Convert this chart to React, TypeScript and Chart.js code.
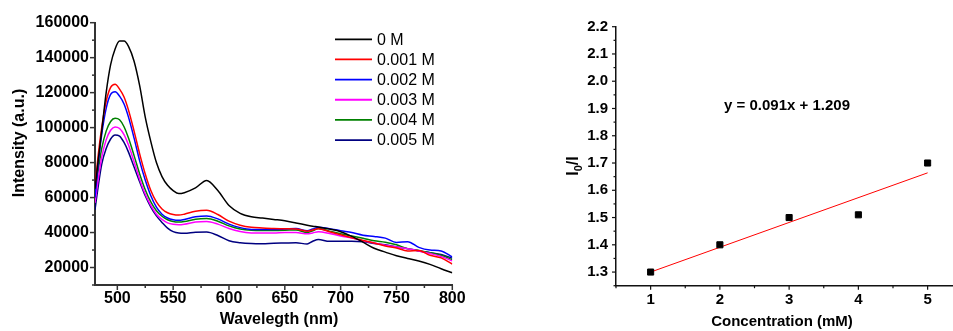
import React, { useEffect, useRef } from "react";
import { Chart, registerables } from "chart.js";
Chart.register(...registerables);
Chart.defaults.font.family = "'Liberation Sans', Arial, sans-serif";

// ---------- Left chart data: emission spectra ----------
const wavelengths = [480, 483, 486, 490, 494, 498, 502, 506, 510, 515, 520, 525, 530, 535, 540, 545, 550, 555, 560, 570, 580, 590, 600, 610, 620, 630, 640, 650, 660, 670, 675, 680, 690, 700, 710, 720, 730, 740, 750, 760, 770, 780, 790, 800];

const series0M = [65000, 82000, 98000, 120000, 136000, 145000, 149500, 149500, 146500, 138000, 124000, 106000, 92000, 80000, 72000, 67000, 64000, 62300, 62800, 65500, 69800, 64000, 55500, 51000, 49000, 48300, 47500, 46700, 45500, 44200, 43600, 43200, 42000, 40500, 37800, 34500, 31000, 28800, 26700, 25200, 23700, 21800, 19300, 17000];
const series001 = [66000, 85000, 100000, 115000, 123000, 124800, 122000, 117500, 110000, 98000, 85000, 73500, 64000, 57500, 53500, 51300, 50300, 50000, 50500, 52200, 52700, 50300, 46500, 44200, 43000, 42600, 42300, 42200, 42000, 40800, 41500, 42200, 40500, 38700, 37000, 35500, 34000, 32300, 31200, 29500, 29800, 27000, 25500, 22000];
const series002 = [60000, 80000, 96000, 111000, 119000, 120500, 118000, 113500, 106000, 94000, 81000, 70000, 61000, 54500, 50500, 48300, 47300, 47000, 47500, 49000, 49500, 47800, 44800, 42800, 41800, 41800, 41800, 42000, 42300, 41000, 42000, 43000, 42200, 41000, 40000, 38500, 37800, 36800, 34300, 34800, 31500, 30000, 29500, 26000];
const series003 = [57000, 71000, 83000, 93000, 98500, 100400, 99500, 96000, 90000, 80500, 70500, 62000, 55500, 50500, 47500, 45500, 44700, 44500, 44800, 46000, 46300, 44800, 42300, 40600, 39800, 39700, 39700, 40000, 40000, 39300, 39800, 40500, 39500, 38000, 36800, 35300, 34000, 32800, 31700, 30700, 29500, 28000, 26300, 23800];
const series004 = [62000, 76000, 88000, 98000, 103500, 105300, 104500, 100500, 94000, 84000, 73500, 64500, 57500, 52500, 49300, 47300, 46300, 46000, 46300, 47600, 48000, 46500, 43800, 42000, 41300, 41200, 41200, 41300, 41500, 40000, 41000, 42300, 40800, 39300, 38000, 36700, 35300, 34500, 33000, 30700, 29800, 28400, 27000, 24500];
const series005 = [53000, 67000, 79000, 88000, 93500, 95800, 95200, 91500, 86000, 77500, 69000, 61000, 54500, 49500, 45800, 42500, 40500, 39700, 39600, 40200, 40300, 38300, 35300, 34200, 33700, 33600, 33900, 34000, 34100, 33500, 35000, 36000, 35000, 35000, 35000, 34700, 33800, 33000, 31800, 30800, 29500, 28500, 27500, 25300];

const spectrumLabels = ["0 M", "0.001 M", "0.002 M", "0.003 M", "0.004 M", "0.005 M"];
const spectrumColors = ["#000000", "#ff0000", "#0000ff", "#ff00ff", "#008000", "#000080"];
const spectrumSeries = [series0M, series001, series002, series003, series004, series005];

const spectrumXTicks = [500, 550, 600, 650, 700, 750, 800];
const spectrumYTicks = [20000, 40000, 60000, 80000, 100000, 120000, 140000, 160000];

// ---------- Right chart data: I0/I vs concentration ----------
const concentrations = [1, 2, 3, 4, 5];
const ratioValues = [1.3, 1.4, 1.5, 1.51, 1.7];
const fitX = [1, 5];
const fitY = [1.3, 1.664];
const ratioXTicks = [1, 2, 3, 4, 5];
const ratioYTicks = [1.3, 1.4, 1.5, 1.6, 1.7, 1.8, 1.9, 2.0, 2.1, 2.2];
const equationText = "y = 0.091x + 1.209";

function tickPlugin(o: any) {
  return {
    id: "axisTicks",
    afterDraw(chart: any) {
      const ctx = chart.ctx;
      const a = chart.chartArea;
      const xs = chart.scales.x;
      const ys = chart.scales.y;
      ctx.save();
      ctx.strokeStyle = o.color;
      ctx.lineWidth = o.width;
      const dx = (v: number, len: number) => {
        const p = xs.getPixelForValue(v);
        if (p < a.left - 0.5 || p > a.right + 0.5) return;
        ctx.beginPath();
        ctx.moveTo(p, a.bottom);
        ctx.lineTo(p, a.bottom + len);
        ctx.stroke();
      };
      const dy = (v: number, len: number) => {
        const p = ys.getPixelForValue(v);
        if (p < a.top - 0.5 || p > a.bottom + 0.5) return;
        ctx.beginPath();
        ctx.moveTo(a.left, p);
        ctx.lineTo(a.left - len, p);
        ctx.stroke();
      };
      o.xMajor.forEach((v: number) => dx(v, o.major));
      o.yMajor.forEach((v: number) => dy(v, o.major));
      for (let v = o.xMinorStart; v <= xs.max + 1e-9; v += o.xMinorStep) dx(v, o.minor);
      for (let v = o.yMinorStart; v <= ys.max + 1e-9; v += o.yMinorStep) dy(v, o.minor);
      ctx.restore();
    },
  };
}

function SpectrumChart() {
  const ref = useRef<HTMLCanvasElement>(null);
  useEffect(() => {
    const canvas = ref.current!;
    const datasets = spectrumSeries.map((s, i) => ({
      label: spectrumLabels[i],
      data: wavelengths.map((w, k) => ({ x: w, y: s[k] })),
      borderColor: spectrumColors[i],
      backgroundColor: spectrumColors[i],
      borderWidth: 1.5,
      pointRadius: 0,
      cubicInterpolationMode: "monotone" as const,
    }));
    const overlay = {
      id: "overlay",
      afterDraw(chart: any) {
        const ctx = chart.ctx;
        ctx.save();
        ctx.fillStyle = "#000";
        ctx.font = "bold 16px 'Liberation Sans', Arial, sans-serif";
        ctx.textAlign = "center";
        ctx.textBaseline = "middle";
        ctx.fillText("Wavelegth (nm)", 279, 320);
        ctx.save();
        ctx.translate(20, 143);
        ctx.rotate(-Math.PI / 2);
        ctx.fillText("Intensity (a.u.)", 0, 0);
        ctx.restore();
        // legend
        ctx.font = "16px 'Liberation Sans', Arial, sans-serif";
        ctx.textAlign = "left";
        spectrumLabels.forEach((lab, i) => {
          const y = 39.3 + i * 20.15;
          ctx.strokeStyle = spectrumColors[i];
          ctx.lineWidth = 1.8;
          ctx.beginPath();
          ctx.moveTo(335, y);
          ctx.lineTo(372, y);
          ctx.stroke();
          ctx.fillStyle = "#000";
          ctx.fillText(lab, 377, y + 1);
        });
        ctx.restore();
      },
    };
    const chart = new Chart(canvas, {
      type: "line",
      data: { datasets },
      options: {
        animation: false,
        responsive: false,
        devicePixelRatio: 1,
        layout: { padding: { top: 22.7, right: 23.7, left: 0, bottom: 0 } },
        plugins: { legend: { display: false }, tooltip: { enabled: false } },
        scales: {
          x: {
            type: "linear",
            min: 480,
            max: 800,
            afterBuildTicks: (s: any) => { s.ticks = spectrumXTicks.map((v) => ({ value: v })); },
            afterFit: (s: any) => { s.height = 46; },
            grid: { display: false, drawTicks: false },
            border: { display: true, color: "#333", width: 2 },
            ticks: { color: "#000", font: { size: 16, weight: "bold" }, padding: 4, maxRotation: 0, callback: (v: any) => String(v) },
          },
          y: {
            type: "linear",
            min: 10000,
            max: 160000,
            afterBuildTicks: (s: any) => { s.ticks = spectrumYTicks.map((v) => ({ value: v })); },
            afterFit: (s: any) => { s.width = 95; },
            grid: { display: false, drawTicks: false },
            border: { display: true, color: "#333", width: 2 },
            ticks: { color: "#000", font: { size: 16, weight: "bold" }, padding: 6, callback: (v: any) => String(v) },
          },
        },
      },
      plugins: [
        tickPlugin({ color: "#333", width: 1.5, major: 5, minor: 3, xMajor: spectrumXTicks, yMajor: spectrumYTicks, xMinorStart: 525, xMinorStep: 50, yMinorStart: 10000, yMinorStep: 20000 }),
        overlay,
      ],
    } as any);
    return () => chart.destroy();
  }, []);
  return <canvas ref={ref} width={476} height={331} style={{ position: "absolute", left: 0, top: 0, width: 476, height: 331 }} />;
}

function RatioChart() {
  const ref = useRef<HTMLCanvasElement>(null);
  useEffect(() => {
    const canvas = ref.current!;
    const overlay = {
      id: "overlay2",
      afterDraw(chart: any) {
        const ctx = chart.ctx;
        ctx.save();
        ctx.fillStyle = "#000";
        ctx.font = "bold 15px 'Liberation Sans', Arial, sans-serif";
        ctx.textAlign = "center";
        ctx.textBaseline = "middle";
        ctx.fillText("Concentration (mM)", 306, 322);
        ctx.fillText(equationText, 311, 106);
        // I0/I rotated
        ctx.save();
        ctx.translate(102, 166);
        ctx.rotate(-Math.PI / 2);
        ctx.textAlign = "left";
        ctx.textBaseline = "alphabetic";
        const big = "bold 16px 'Liberation Sans', Arial, sans-serif";
        const small = "bold 11px 'Liberation Sans', Arial, sans-serif";
        ctx.font = big;
        const w1 = ctx.measureText("I").width;
        const w3 = ctx.measureText("/I").width;
        ctx.font = small;
        const w2 = ctx.measureText("0").width;
        let x = -(w1 + w2 + w3) / 2;
        ctx.font = big;
        ctx.fillText("I", x, 0);
        x += w1;
        ctx.font = small;
        ctx.fillText("0", x, 4);
        x += w2;
        ctx.font = big;
        ctx.fillText("/I", x, 0);
        ctx.restore();
        ctx.restore();
      },
    };
    const chart = new Chart(canvas, {
      type: "scatter",
      data: {
        datasets: [
          {
            label: "fit",
            data: fitX.map((x, i) => ({ x, y: fitY[i] })),
            showLine: true,
            borderColor: "#ff0000",
            borderWidth: 1,
            pointRadius: 0,
            order: 2,
          },
          {
            label: "I0/I",
            data: concentrations.map((x, i) => ({ x, y: ratioValues[i] })),
            pointStyle: "rect",
            pointRadius: 4.3,
            pointBorderWidth: 1,
            backgroundColor: "#000",
            borderColor: "#000",
            order: 1,
          },
        ],
      },
      options: {
        animation: false,
        responsive: false,
        devicePixelRatio: 1,
        layout: { padding: { top: 26.7, right: 13.75, left: 0, bottom: 0 } },
        plugins: { legend: { display: false }, tooltip: { enabled: false } },
        scales: {
          x: {
            type: "linear",
            min: 0.5,
            max: 5.5,
            afterBuildTicks: (s: any) => { s.ticks = ratioXTicks.map((v) => ({ value: v })); },
            afterFit: (s: any) => { s.height = 45.3; },
            grid: { display: false, drawTicks: false },
            border: { display: true, color: "#111", width: 1.5 },
            ticks: { color: "#000", font: { size: 15, weight: "bold" }, padding: 5, maxRotation: 0 },
          },
          y: {
            type: "linear",
            min: 1.25,
            max: 2.2,
            afterBuildTicks: (s: any) => { s.ticks = ratioYTicks.map((v) => ({ value: v })); },
            afterFit: (s: any) => { s.width = 140; },
            grid: { display: false, drawTicks: false },
            border: { display: true, color: "#111", width: 1.5 },
            ticks: { color: "#000", font: { size: 15, weight: "bold" }, padding: 8, callback: (v: any) => Number(v).toFixed(1) },
          },
        },
      },
      plugins: [
        tickPlugin({ color: "#111", width: 1.2, major: 4, minor: 2.5, xMajor: ratioXTicks, yMajor: ratioYTicks, xMinorStart: 0.5, xMinorStep: 1, yMinorStart: 1.25, yMinorStep: 0.1 }),
        overlay,
      ],
    } as any);
    return () => chart.destroy();
  }, []);
  return <canvas ref={ref} width={500} height={331} style={{ position: "absolute", left: 476, top: 0, width: 500, height: 331 }} />;
}

export default function App() {
  return (
    <div style={{ position: "absolute", left: 0, top: 0, width: 953, height: 331, overflow: "hidden", background: "#fff" }}>
      <SpectrumChart />
      <RatioChart />
    </div>
  );
}
